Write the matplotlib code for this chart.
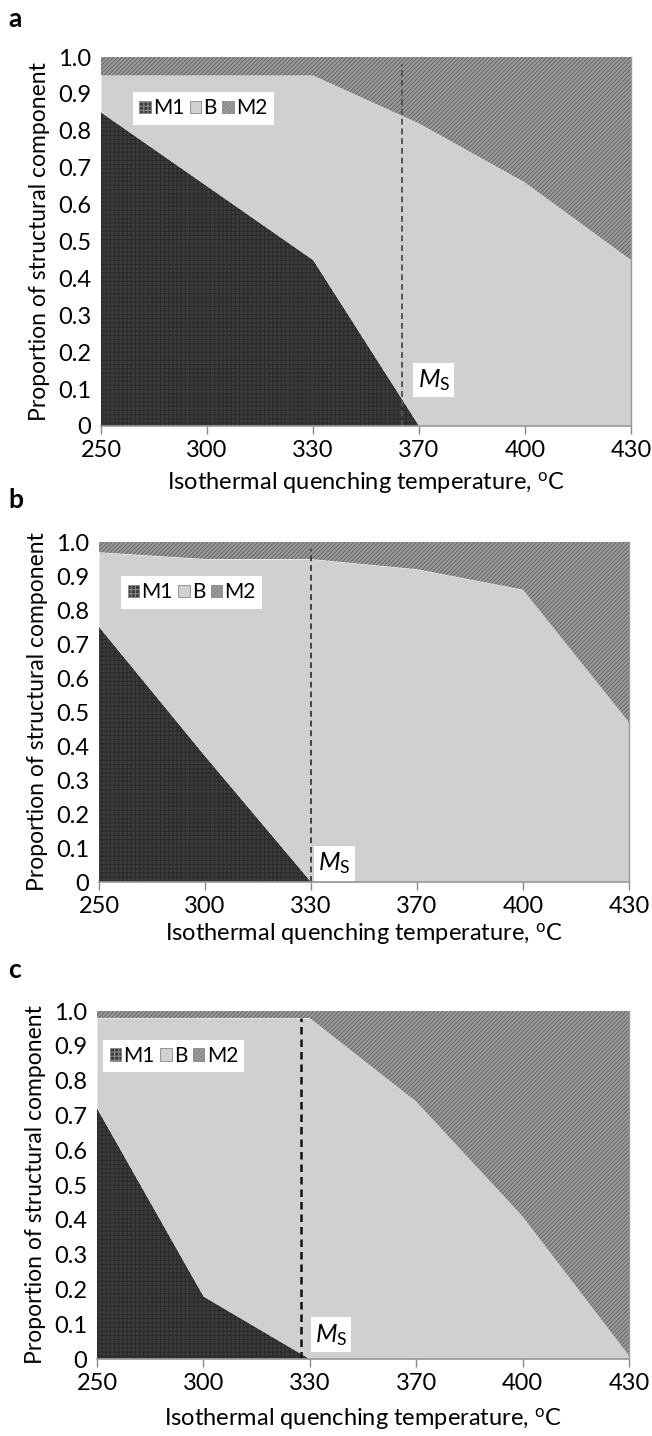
import numpy as np
import matplotlib.pyplot as plt

plt.rcParams['font.family'] = ['Lato', 'DejaVu Sans']
plt.rcParams['mathtext.fontset'] = 'custom'
plt.rcParams['mathtext.rm'] = 'Lato'
plt.rcParams['mathtext.it'] = 'Lato:italic'
plt.rcParams['hatch.linewidth'] = 0.8

temps = ["250", "300", "330", "370", "400", "430"]

# panel a
m1_a = [0.85, 0.65, 0.45, 0.0, 0.0, 0.0]
b_a = [0.10, 0.30, 0.50, 0.82, 0.66, 0.45]
m2_a = [0.05, 0.05, 0.05, 0.18, 0.34, 0.55]
ms_a = 2.84

# panel b
m1_b = [0.75, 0.37, 0.0, 0.0, 0.0, 0.0]
b_b = [0.22, 0.58, 0.95, 0.92, 0.86, 0.47]
m2_b = [0.03, 0.05, 0.05, 0.08, 0.14, 0.53]
ms_b = 2.0

# panel c
m1_c = [0.72, 0.18, 0.0, 0.0, 0.0, 0.0]
b_c = [0.26, 0.80, 0.98, 0.74, 0.41, 0.01]
m2_c = [0.02, 0.02, 0.02, 0.26, 0.59, 0.99]
ms_c = 1.92

labels = ["M1", "B", "M2"]

W, H = 652, 1436
fig = plt.figure(figsize=(W / 100, H / 100), dpi=100)

# left, top, right, bottom in pixels
boxes = [(101, 57, 631, 426), (99, 542, 629, 882), (97, 1011, 629, 1359)]
panels = [(m1_a, b_a, m2_a, ms_a), (m1_b, b_b, m2_b, ms_b), (m1_c, b_c, m2_c, ms_c)]
letters = ["a", "b", "c"]
letter_y = [27, 508, 978]
leg_pos = [(0.06, 0.905), (0.042, 0.90), (0.012, 0.917)]
ms_txt = [(3.14, 0.125), (2.22, 0.055), (2.2, 0.07)]
ms_style = [dict(color="#555555", lw=1.4), dict(color="#444444", lw=1.4),
            dict(color="#111111", lw=1.8)]
xlab_pad = [7, 3, 9]

x = np.arange(len(temps))

for i in range(3):
    l, t, r, b = boxes[i]
    ax = fig.add_axes([l / W, 1 - b / H, (r - l) / W, (b - t) / H])
    m1, bb, m2, ms = panels[i]
    polys = ax.stackplot(x, m1, bb, m2, labels=labels,
                         colors=["#3c3c3c", "#d0d0d0", "#9c9c9c"])
    polys[0].set_edgecolor("#2a2a2a")
    polys[0].set_hatch("++++")
    polys[1].set_edgecolor("#c8c8c8")
    polys[2].set_edgecolor("#6a6a6a")
    polys[2].set_hatch("////////")
    for p in polys:
        p.set_linewidth(0)

    ax.axvline(ms, ymin=0, ymax=0.98, ls=(0, (3, 2)), **ms_style[i])
    ax.text(ms_txt[i][0], ms_txt[i][1], r"$M_{\rm S}$", fontsize=18,
            ha="center", va="center",
            bbox=dict(fc="white", ec="none", pad=3))

    ax.set_xlim(0, 5)
    ax.set_ylim(0, 1)
    ax.set_xticks(x)
    ax.set_xticklabels(temps)
    ax.set_yticks(np.arange(0, 1.01, 0.1))
    ax.set_yticklabels(["0"] + ["%.1f" % v for v in np.arange(0.1, 1.01, 0.1)])
    ax.tick_params(axis="x", length=6, width=1, color="#888888", pad=4, labelsize=17)
    ax.tick_params(axis="y", length=0, pad=7, labelsize=17)
    for s in ["top", "left"]:
        ax.spines[s].set_visible(False)
    ax.spines["bottom"].set_color("#999999")
    ax.spines["bottom"].set_linewidth(1.2)
    ax.spines["right"].set_color("#999999")
    ax.spines["right"].set_linewidth(1)

    ax.set_xlabel("Isothermal quenching temperature, $^{\\rm o}$C", fontsize=17,
                  labelpad=xlab_pad[i])
    ax.set_ylabel("Proportion of structural component", fontsize=16.5, labelpad=6)

    leg = ax.legend(loc="upper left", bbox_to_anchor=leg_pos[i], ncol=3,
                    fontsize=15, frameon=True, fancybox=False,
                    handlelength=0.55, handleheight=0.55, handletextpad=0.12,
                    columnspacing=0.25, borderaxespad=0, borderpad=0.3)
    leg.get_frame().set_facecolor("white")
    leg.get_frame().set_edgecolor("none")
    leg.get_frame().set_alpha(1)
    for h in leg.legend_handles:
        h.set_edgecolor("#888888")
        h.set_linewidth(0.6)

    fig.text(8 / W, 1 - letter_y[i] / H, letters[i], fontsize=19,
             fontweight="bold", va="baseline", ha="left")

fig.savefig("out.png", dpi=100)
